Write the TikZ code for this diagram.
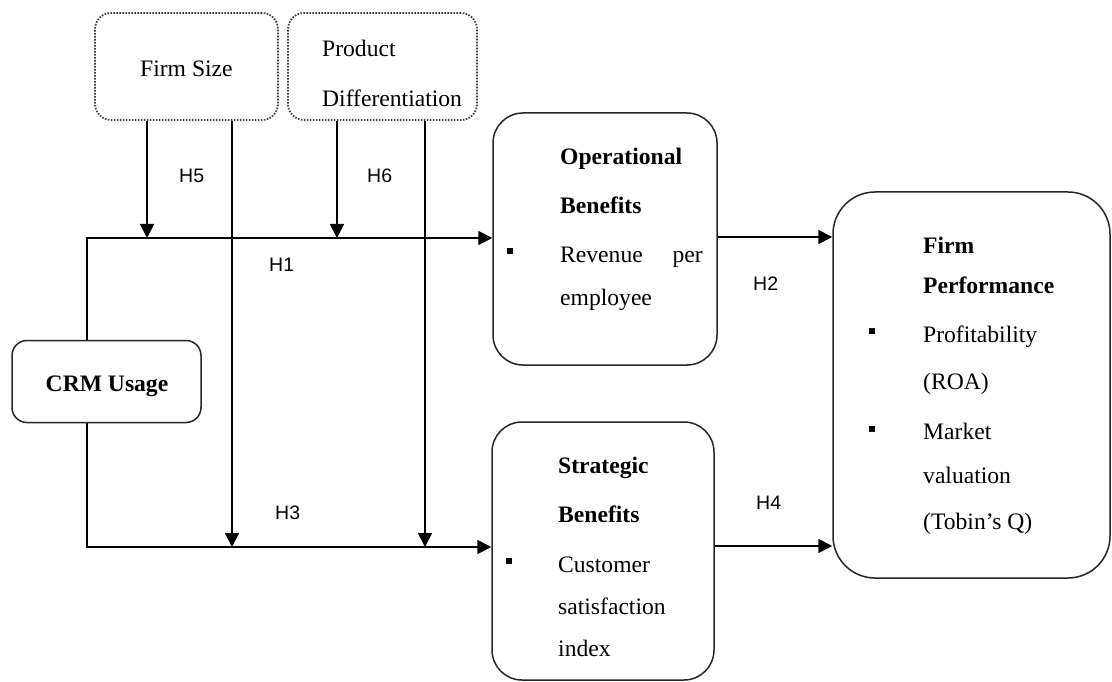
\documentclass[tikz,border=0pt]{standalone}
\usepackage{fontspec}
\setmainfont{Liberation Serif}
\newfontfamily\hfont{Liberation Sans}
\usetikzlibrary{arrows.meta}
\tikzset{
  box/.style={draw=black!85, line width=1.5pt, rectangle, inner sep=0pt},
  dbox/.style={draw=black!75, line width=1.8pt, dash pattern=on 1.6pt off 1.4pt, rounded corners=16pt, rectangle, inner sep=0pt},
  txt/.style={inner sep=0pt, anchor=base west, font=\fontsize{23.6}{26}\selectfont},
  btxt/.style={txt, font=\fontsize{23.6}{26}\selectfont\bfseries},
  hlab/.style={inner sep=0pt, anchor=base west, font=\hfont\fontsize{19.5}{22}\selectfont},
  bul/.style={fill=black, inner sep=0pt, minimum size=5.5pt, rectangle},
  arr/.style={line width=1.8pt, -{Triangle[length=14pt,width=14pt]}},
  ln/.style={line width=1.8pt}
}
\begin{document}
\begin{tikzpicture}[x=1pt,y=-1pt]
\useasboundingbox (0,0) rectangle (1112,682);
% boxes
\node[dbox, minimum width=183pt, minimum height=107pt] (fs) at (186.5,66.5) {};
\node[dbox, minimum width=189pt, minimum height=107pt] (pd) at (382.5,66.5) {};
\node[box, rounded corners=15pt, minimum width=189pt, minimum height=82pt] (crm) at (106.5,381.5) {};
\node[box, rounded corners=30pt, minimum width=224pt, minimum height=252pt] (ob) at (605,239) {};
\node[box, rounded corners=30pt, minimum width=222pt, minimum height=258pt] (sb) at (603,551) {};
\node[box, rounded corners=42pt, minimum width=277pt, minimum height=386pt] (fp) at (971.5,385) {};
% texts
\node[txt] (t1) at (140,77) {Firm Size};
\node[txt] (t2) at (322,57) {Product};
\node[txt] (t3) at (322,107) {Differentiation};
\node[btxt, anchor=base] (t4) at (107,391) {CRM Usage};
\node[btxt] (t5) at (560,165) {Operational};
\node[btxt] (t6) at (560,214) {Benefits};
\node[bul] (b1) at (510,251) {};
\node[txt] (t7) at (560,262) {Revenue};
\node[txt, anchor=base east] (t8) at (703,262) {per};
\node[txt] (t9) at (560,305) {employee};
\node[btxt] (t10) at (558,473) {Strategic};
\node[btxt] (t11) at (558,522) {Benefits};
\node[bul] (b2) at (509,561) {};
\node[txt] (t12) at (558,572) {Customer};
\node[txt] (t13) at (558,614) {satisfaction};
\node[txt] (t14) at (558,656) {index};
\node[btxt] (t15) at (923,253) {Firm};
\node[btxt] (t16) at (923,293) {Performance};
\node[bul] (b3) at (872,331) {};
\node[txt] (t17) at (923,342) {Profitability};
\node[txt] (t18) at (923,389) {(ROA)};
\node[bul] (b4) at (872,429) {};
\node[txt] (t19) at (923,439) {Market};
\node[txt] (t20) at (923,483) {valuation};
\node[txt] (t21) at (923,529) {(Tobin's Q)};
% hypothesis labels
\node[hlab] (h5) at (179,183) {H5};
\node[hlab] (h6) at (367,183) {H6};
\node[hlab] (h1l) at (269,271) {H1};
\node[hlab] (h2l) at (753,290) {H2};
\node[hlab] (h3l) at (275,519) {H3};
\node[hlab] (h4l) at (756,509) {H4};
% coordinates
\coordinate (c1) at (87,238);
\coordinate (c3) at (87,547);
\coordinate (m5) at (147,238);
\coordinate (m6) at (337,238);
\coordinate (m3a) at (232,547);
\coordinate (m3b) at (425,547);
\coordinate (c2) at (775,237);
\coordinate (c4) at (775,546);
% connectors
\draw[arr] (crm.north -| c1) -- (c1) -- (ob.west |- c1);
\draw[arr] (crm.south -| c3) -- (c3) -- (sb.west |- c3);
\draw[arr] (fs.south -| m5) -- (m5);
\draw[arr] (fs.south -| m3a) -- (m3a);
\draw[arr] (pd.south -| m6) -- (m6);
\draw[arr] (pd.south -| m3b) -- (m3b);
\draw[arr] (ob.east |- c2) -- (fp.west |- c2);
\draw[arr] (sb.east |- c4) -- (fp.west |- c4);
\end{tikzpicture}
\end{document}
